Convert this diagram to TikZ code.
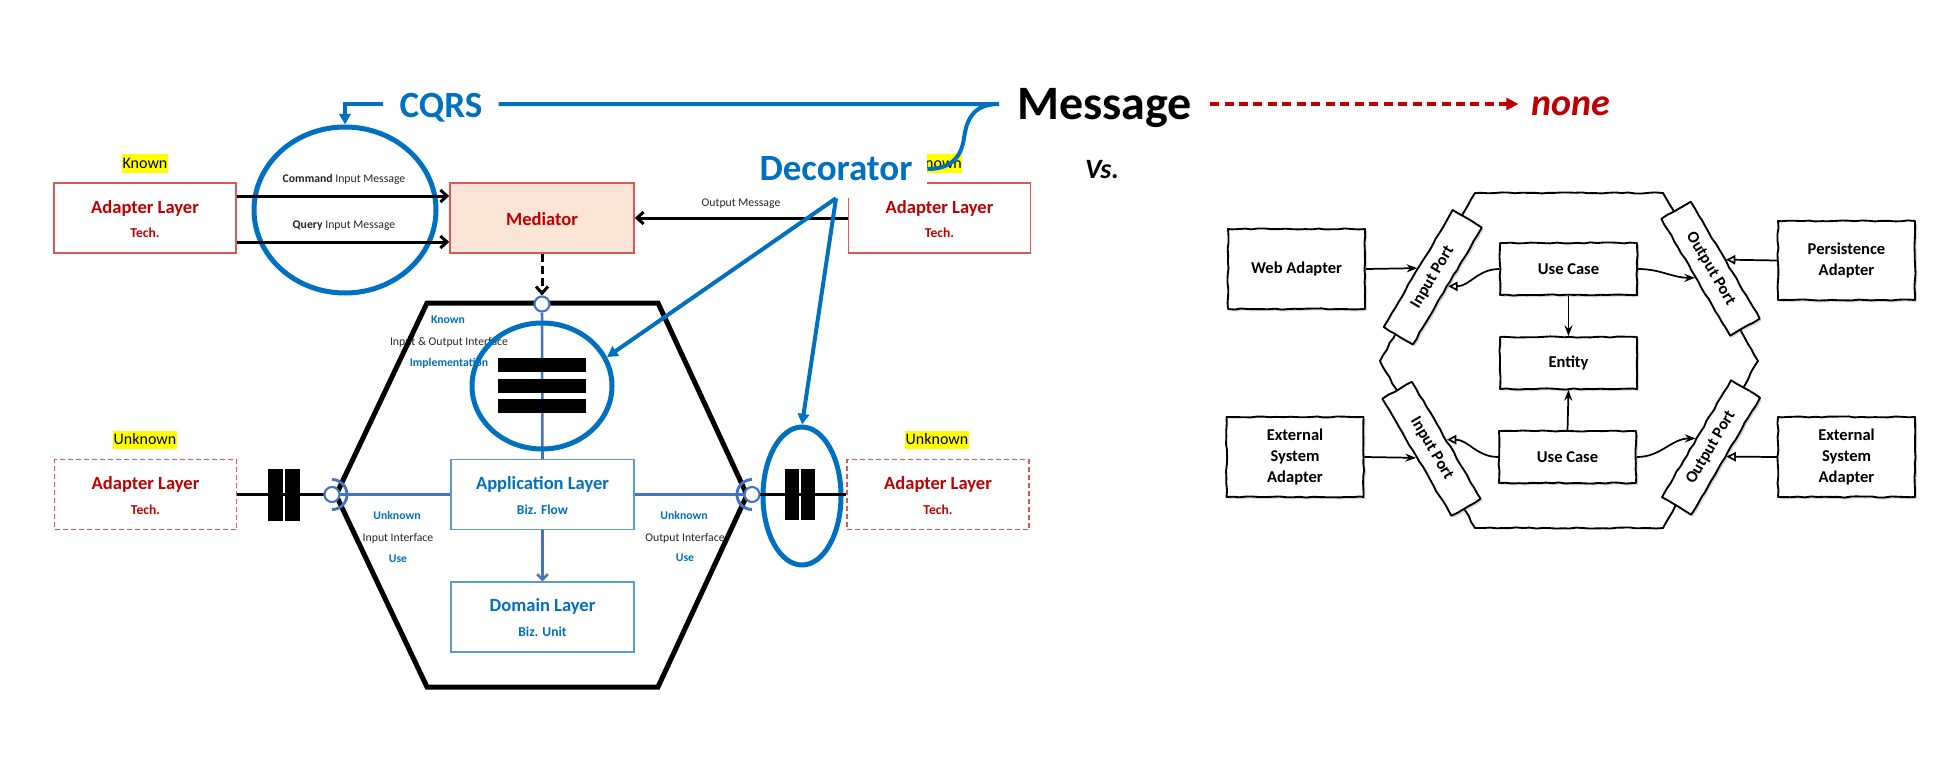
\documentclass[tikz,border=0pt]{standalone}
\usepackage{fontspec}
\setmainfont{Carlito}
\usetikzlibrary{arrows.meta,shapes.geometric,calc,decorations.pathmorphing,shadows}
\definecolor{blueT}{HTML}{0070C0}
\definecolor{blueL}{HTML}{4472C4}
\definecolor{blueB}{HTML}{5B9BD5}
\definecolor{redT}{HTML}{C00000}
\definecolor{redB}{HTML}{E05555}
\definecolor{medF}{HTML}{FBE5D6}
\definecolor{hlY}{HTML}{FFFF00}
\definecolor{txtG}{HTML}{262626}
\begin{document}
\begin{tikzpicture}[x=0.75pt,y=-0.75pt,
  adbox/.style={draw=redB, line width=1.1pt, minimum width=136.5pt, minimum height=52.5pt, inner sep=0pt},
  dashbox/.style={adbox, dash pattern=on 3.75pt off 2.25pt},
  medbox/.style={adbox, fill=medF, minimum width=138pt},
  lybox/.style={draw=blueB, line width=1.1pt, minimum width=137.25pt, minimum height=52.5pt, inner sep=0pt},
  ttlR/.style={anchor=base, text=redT, font=\fontsize{13.9}{16}\selectfont\bfseries, inner sep=0pt},
  subR/.style={anchor=base, text=redT, font=\fontsize{10.2}{12}\selectfont\bfseries, inner sep=0pt},
  ttlB/.style={ttlR, text=blueT},
  subB/.style={subR, text=blueT},
  lblk/.style={anchor=base, text=txtG, font=\fontsize{8.8}{10}\selectfont, inner sep=0pt},
  lblb/.style={anchor=base, text=blueT, font=\fontsize{8.8}{10}\selectfont\bfseries, inner sep=0pt},
  hl/.style={fill=hlY, text=black, font=\fontsize{12}{14}\selectfont, inner xsep=0.4pt, inner ysep=0.9pt, text height=9.4pt, text depth=2.6pt},
  blkline/.style={draw=black, line width=2.25pt},
  blkarrow/.style={blkline, -{Straight Barb[length=5pt,width=9pt]}},
  blkdash/.style={blkarrow, dash pattern=on 6pt off 3pt},
  blueline/.style={draw=blueL, line width=1.9pt},
  bluearrow/.style={blueline, -{Straight Barb[length=4pt,width=8pt]}},
  bigline/.style={draw=blueT, line width=3pt},
  bigarrow/.style={bigline, -{Triangle[length=8pt,width=8.5pt]}},
  reddash/.style={draw=redT, line width=3pt, dash pattern=on 6.75pt off 4.1pt, -{Triangle[length=9pt,width=9pt]}},
  ring/.style={ellipse, draw=blueT, line width=3.75pt, inner sep=0pt},
  port/.style={circle, draw=blueL, fill=white, line width=1.6pt, minimum size=11.25pt, inner sep=0pt},
  socket/.style={draw=blueL, line width=2.2pt},
  bigT/.style={text=blueT, font=\fontsize{27.75}{30}\selectfont\bfseries},
  decbox/.style={bigT, fill=white, minimum width=136.5pt, minimum height=43.5pt, inner sep=0pt, text height=17.8pt, text depth=0pt},
  sketch/.style={decorate, decoration={random steps, segment length=5pt, amplitude=0.45pt}},
  skbox/.style={draw=black, fill=white, line width=1.4pt, line join=round, sketch,
     drop shadow={shadow xshift=1.5pt, shadow yshift=-1.5pt, opacity=0.3},
     font=\fontsize{12.4}{15.4}\selectfont\bfseries, align=center, inner sep=0pt},
  skarrow/.style={draw=black, line width=1.3pt, -{Stealth[length=8pt,width=6pt]}},
  skopen/.style={draw=black, line width=1.3pt, -{Triangle[open,length=7pt,width=7pt]}}
]
\pgfmathsetseed{7}
\useasboundingbox (0,0) rectangle (1955,771);
\fill[white] (0,0) rectangle (1955,771);

% ---------- labels inside the hexagon (behind) ----------
\node[lblb] (hxK) at (448,323) {Known};
\node[lblk] (hxI) at (449,345) {Input \& Output Interface};
\node[lblb] (hxM) at (449,366) {Implementation};

% ---------- hexagon ----------
\draw[line width=3.75pt, line join=miter] (427,303) -- (658,303) -- (747,495) -- (658,687) -- (427,687) -- (336,495) -- cycle;

% ---------- boxes ----------
\node[adbox] (adL1) at (145,218) {};
\node[ttlR] at ($(adL1)+(0,-5)$) {Adapter Layer};
\node[subR] at ($(adL1)+(0,19)$) {Tech.};

\node[medbox] (med) at (542,218) {};
\node[ttlR] at ($(med)+(0,7)$) {Mediator};

\node[adbox] (adR1) at (939.5,218) {};
\node[ttlR] at ($(adR1)+(0,-5)$) {Adapter Layer};
\node[subR] at ($(adR1)+(0,19)$) {Tech.};

\node[dashbox] (adL2) at (145.5,494.5) {};
\node[ttlR] at ($(adL2)+(0,-5.5)$) {Adapter Layer};
\node[subR] at ($(adL2)+(0,19.5)$) {Tech.};

\node[dashbox] (adR2) at (938,494.5) {};
\node[ttlR] at ($(adR2)+(0,-5.5)$) {Adapter Layer};
\node[subR] at ($(adR2)+(0,19.5)$) {Tech.};

\node[lybox] (app) at (542.5,494.5) {};
\node[ttlB] at ($(app)+(0,-5.5)$) {Application Layer};
\node[subB] at ($(app)+(0,19.5)$) {Biz. Flow};

\node[lybox] (dom) at (542.5,617) {};
\node[ttlB] at ($(dom)+(0,-6)$) {Domain Layer};
\node[subB] at ($(dom)+(0,19)$) {Biz. Unit};

% ---------- highlighted labels ----------
\node[hl] (knL) at (145,163.5) {Known};
\node[hl] (knR) at (939.5,163.5) {Known};
\node[hl] (unL) at (145,440) {Unknown};
\node[hl] (unR) at (937,440) {Unknown};

% ---------- small labels ----------
\node[lblk] (cmdL) at (344,182) {\textbf{Command} Input Message};
\node[lblk] (qryL) at (344,228) {\textbf{Query} Input Message};
\node[lblk] (outL) at (741,206) {Output Message};
\node[lblb] (inU) at (397,519) {Unknown};
\node[lblk] (inI) at (398,541) {Input Interface};
\node[lblb] (inS) at (398,562) {Use};
\node[lblb] (ouU) at (684,519) {Unknown};
\node[lblk] (ouI) at (685,541) {Output Interface};
\node[lblb] (ouS) at (685,561) {Use};

% ---------- ports ----------
\node[port] (tp) at (542,304) {};
\coordinate (lpC) at (332,494.5);
\coordinate (rpC) at (752,494.5);

% ---------- blue inner connectors ----------
\draw[blueline] (tp.south) -- (app.north);
\draw[bluearrow] (app.south) -- (dom.north);
\draw[blueline] (lpC) -- (app.west);
\draw[blueline] (app.east) -- (rpC);

% ---------- rings ----------
\node[ring, minimum width=136.5pt, minimum height=124.5pt] (cqrsC) at (345,210) {};
\node[ring, minimum width=105pt, minimum height=94.5pt] (decC) at (542,386) {};
\node[ring, minimum width=58.5pt, minimum height=103.5pt] (rE) at (802,496) {};

% ---------- black connectors ----------
\draw[blkarrow] ($(adL1.east)+(0,-22)$) -- ($(med.west)+(0,-22)$);
\draw[blkarrow] ($(adL1.east)+(0,24)$) -- ($(med.west)+(0,24)$);
\draw[blkarrow] (adR1.west) -- (med.east);
\draw[blkdash] (med.south) -- (tp.north);
\draw[blkline] (adL2.east) -- (lpC);
\draw[blkline] (rpC) -- (adR2.west);

% ---------- bars ----------
\fill (268,469) rectangle (283,521);
\fill (285,469) rectangle (300,521);
\fill (785,469) rectangle (799,520);
\fill (801,469) rectangle (815,520);
\fill (498,358) rectangle (586,372);
\fill (498,379) rectangle (586,393);
\fill (498,399) rectangle (586,413);

% ---------- side ports ----------
\node[port] (lp) at (lpC) {};
\node[port] (rp) at (rpC) {};
\draw[socket] ([yshift=11.25pt]lp.center) arc[start angle=90, end angle=-90, radius=11.25pt];
\draw[socket] ([yshift=11.25pt]rp.center) arc[start angle=90, end angle=270, radius=11.25pt];

% ---------- top titles ----------
\node[decbox] (decor) at (836,169) {Decorator};
\node[bigT, anchor=base, inner xsep=12pt] (cqrs) at (441,117) {CQRS};
\node[anchor=base, font=\fontsize{36}{40}\selectfont\bfseries, inner xsep=13.5pt] (message) at (1104.5,119) {Message};
\node[anchor=base, text=redT, font=\fontsize{28.5}{32}\selectfont\bfseries\itshape, inner xsep=9.75pt] (none) at (1571,115) {none};
\node[anchor=base, font=\fontsize{21}{24}\selectfont\bfseries\itshape] (vs) at (1102,178) {Vs.};
\coordinate (busR) at (message.west |- 0,104);
\draw[bigline] (cqrs.east |- busR) -- (busR) .. controls (976,104) and (967,116) .. (964,138) .. controls (961,160) and (948,169) .. (decor.east);
\draw[bigarrow] (cqrs.west |- busR) -| (cqrsC.north);
\draw[reddash] (message.east |- busR) -- (none.west |- busR);
\draw[bigarrow] (decor.south) -- (decC.24);
\draw[bigarrow] (decor.south) -- (rE.north);

% ================= right diagram =================
\draw[sketch, line width=1.4pt, line join=round] (1475,193) -- (1663,193) -- (1758,361) -- (1663,528) -- (1475,528) -- (1380,361) -- cycle;

\node[skbox, minimum width=102.75pt, minimum height=60pt] (web) at (1296.5,269) {Web Adapter};
\node[skbox, minimum width=102.75pt, minimum height=60pt] (ext1) at (1295,457) {External\\System\\Adapter};
\node[skbox, minimum width=102.75pt, minimum height=59.25pt] (pers) at (1846.5,260.5) {Persistence\\Adapter};
\node[skbox, minimum width=102.75pt, minimum height=60pt] (ext2) at (1846.5,457) {External\\System\\Adapter};
\node[skbox, minimum width=102.75pt, minimum height=39pt] (uc1) at (1568.5,269) {Use Case};
\node[skbox, minimum width=102.75pt, minimum height=39pt] (ent) at (1568.5,363) {Entity};
\node[skbox, minimum width=102.75pt, minimum height=39pt] (uc2) at (1567.5,457) {Use Case};

\node[skbox, minimum width=102pt, minimum height=25.5pt, rotate=59.5] (ip1) at (1432.75,277.25) {Input Port};
\node[skbox, minimum width=102pt, minimum height=25.5pt, rotate=-59.5] (ip2) at (1431.5,448.75) {Input Port};
\node[skbox, minimum width=102pt, minimum height=25.5pt, rotate=-59.5] (op1) at (1710.5,268.75) {Output Port};
\node[skbox, minimum width=102pt, minimum height=25.5pt, rotate=59.5] (op2) at (1711,447.5) {Output Port};

\draw[skarrow] (web.east) -- (ip1.north);
\draw[skarrow] (ext1.east) -- (ip2.south);
\draw[skopen] (uc1.west) to[out=180,in=0] (ip1.south);
\draw[skopen] (uc2.west) to[out=180,in=0] (ip2.north);
\draw[skarrow] (uc1.east) to[out=0,in=180] (op1.south);
\draw[skarrow] (uc2.east) to[out=0,in=180] (op2.north);
\draw[skopen] (pers.west) -- (op1.north);
\draw[skopen] (ext2.west) -- (op2.south);
\draw[skarrow] (uc1.south) -- (ent.north);
\draw[skarrow] (uc2.north) -- (ent.south);
\end{tikzpicture}
\end{document}
